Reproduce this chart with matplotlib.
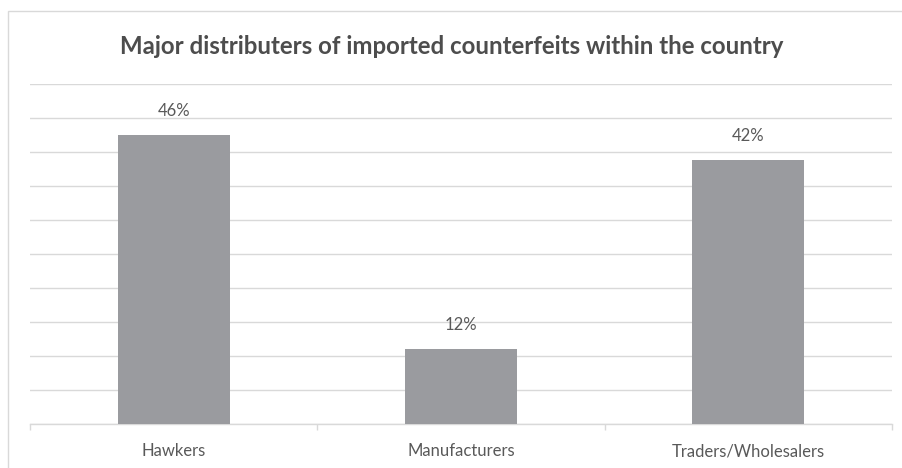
import matplotlib as mpl
import matplotlib.pyplot as plt
import numpy as np
from matplotlib.patches import Rectangle

mpl.use("Agg")

categories = ["Hawkers", "Manufacturers", "Traders/Wholesalers"]
shares = [46, 12, 42]
title = "Major distributers of imported counterfeits within the country"

bar_color = "#9a9b9f"
grid_color = "#d9d9d9"
text_color = "#595959"

fig = plt.figure(figsize=(9.03, 4.68), dpi=100)
fig.patch.set_facecolor("white")

# light frame around the chart area
fig.patches.append(Rectangle((8 / 903, -0.1), 1.2, (468 - 11) / 468 + 0.1,
                             transform=fig.transFigure, fill=False,
                             edgecolor="#d9d9d9", linewidth=1.0))

ax = fig.add_axes([30 / 903, 44 / 468, 862 / 903, 340 / 468])
x = np.arange(len(categories))
ax.bar(x, shares, width=0.39, color=bar_color, zorder=3)

ax.set_xlim(-0.5, len(categories) - 0.5)
ax.set_ylim(0, 54.1)
ax.set_yticks(np.linspace(0, 54.1, 11))
ax.yaxis.grid(True, color=grid_color, linewidth=1.0, zorder=0)
ax.tick_params(axis="y", left=False, labelleft=False)

# category ticks sit between the bars
ax.set_xticks(x)
ax.set_xticklabels(categories, fontfamily="Lato", fontsize=12, color=text_color)
ax.tick_params(axis="x", length=0, pad=14)
ax.set_xticks(np.arange(-0.5, len(categories)), minor=True)
ax.tick_params(axis="x", which="minor", length=4, color=grid_color, width=1.0)

for spine in ["top", "right", "left"]:
    ax.spines[spine].set_visible(False)
ax.spines["bottom"].set_color(grid_color)
ax.spines["bottom"].set_linewidth(1.0)

for xi, v in zip(x, shares):
    ax.annotate(f"{v}%", (xi, v), xytext=(0, 17), textcoords="offset points",
                ha="center", va="center", fontfamily="Lato", fontsize=12,
                color=text_color)

fig.text(0.5, (468 - 46) / 468, title, ha="center", va="center",
         fontfamily="Lato", fontweight="bold", fontsize=17.3, color="#4d4d4d")

fig.savefig("out.png", dpi=100, facecolor="white")
